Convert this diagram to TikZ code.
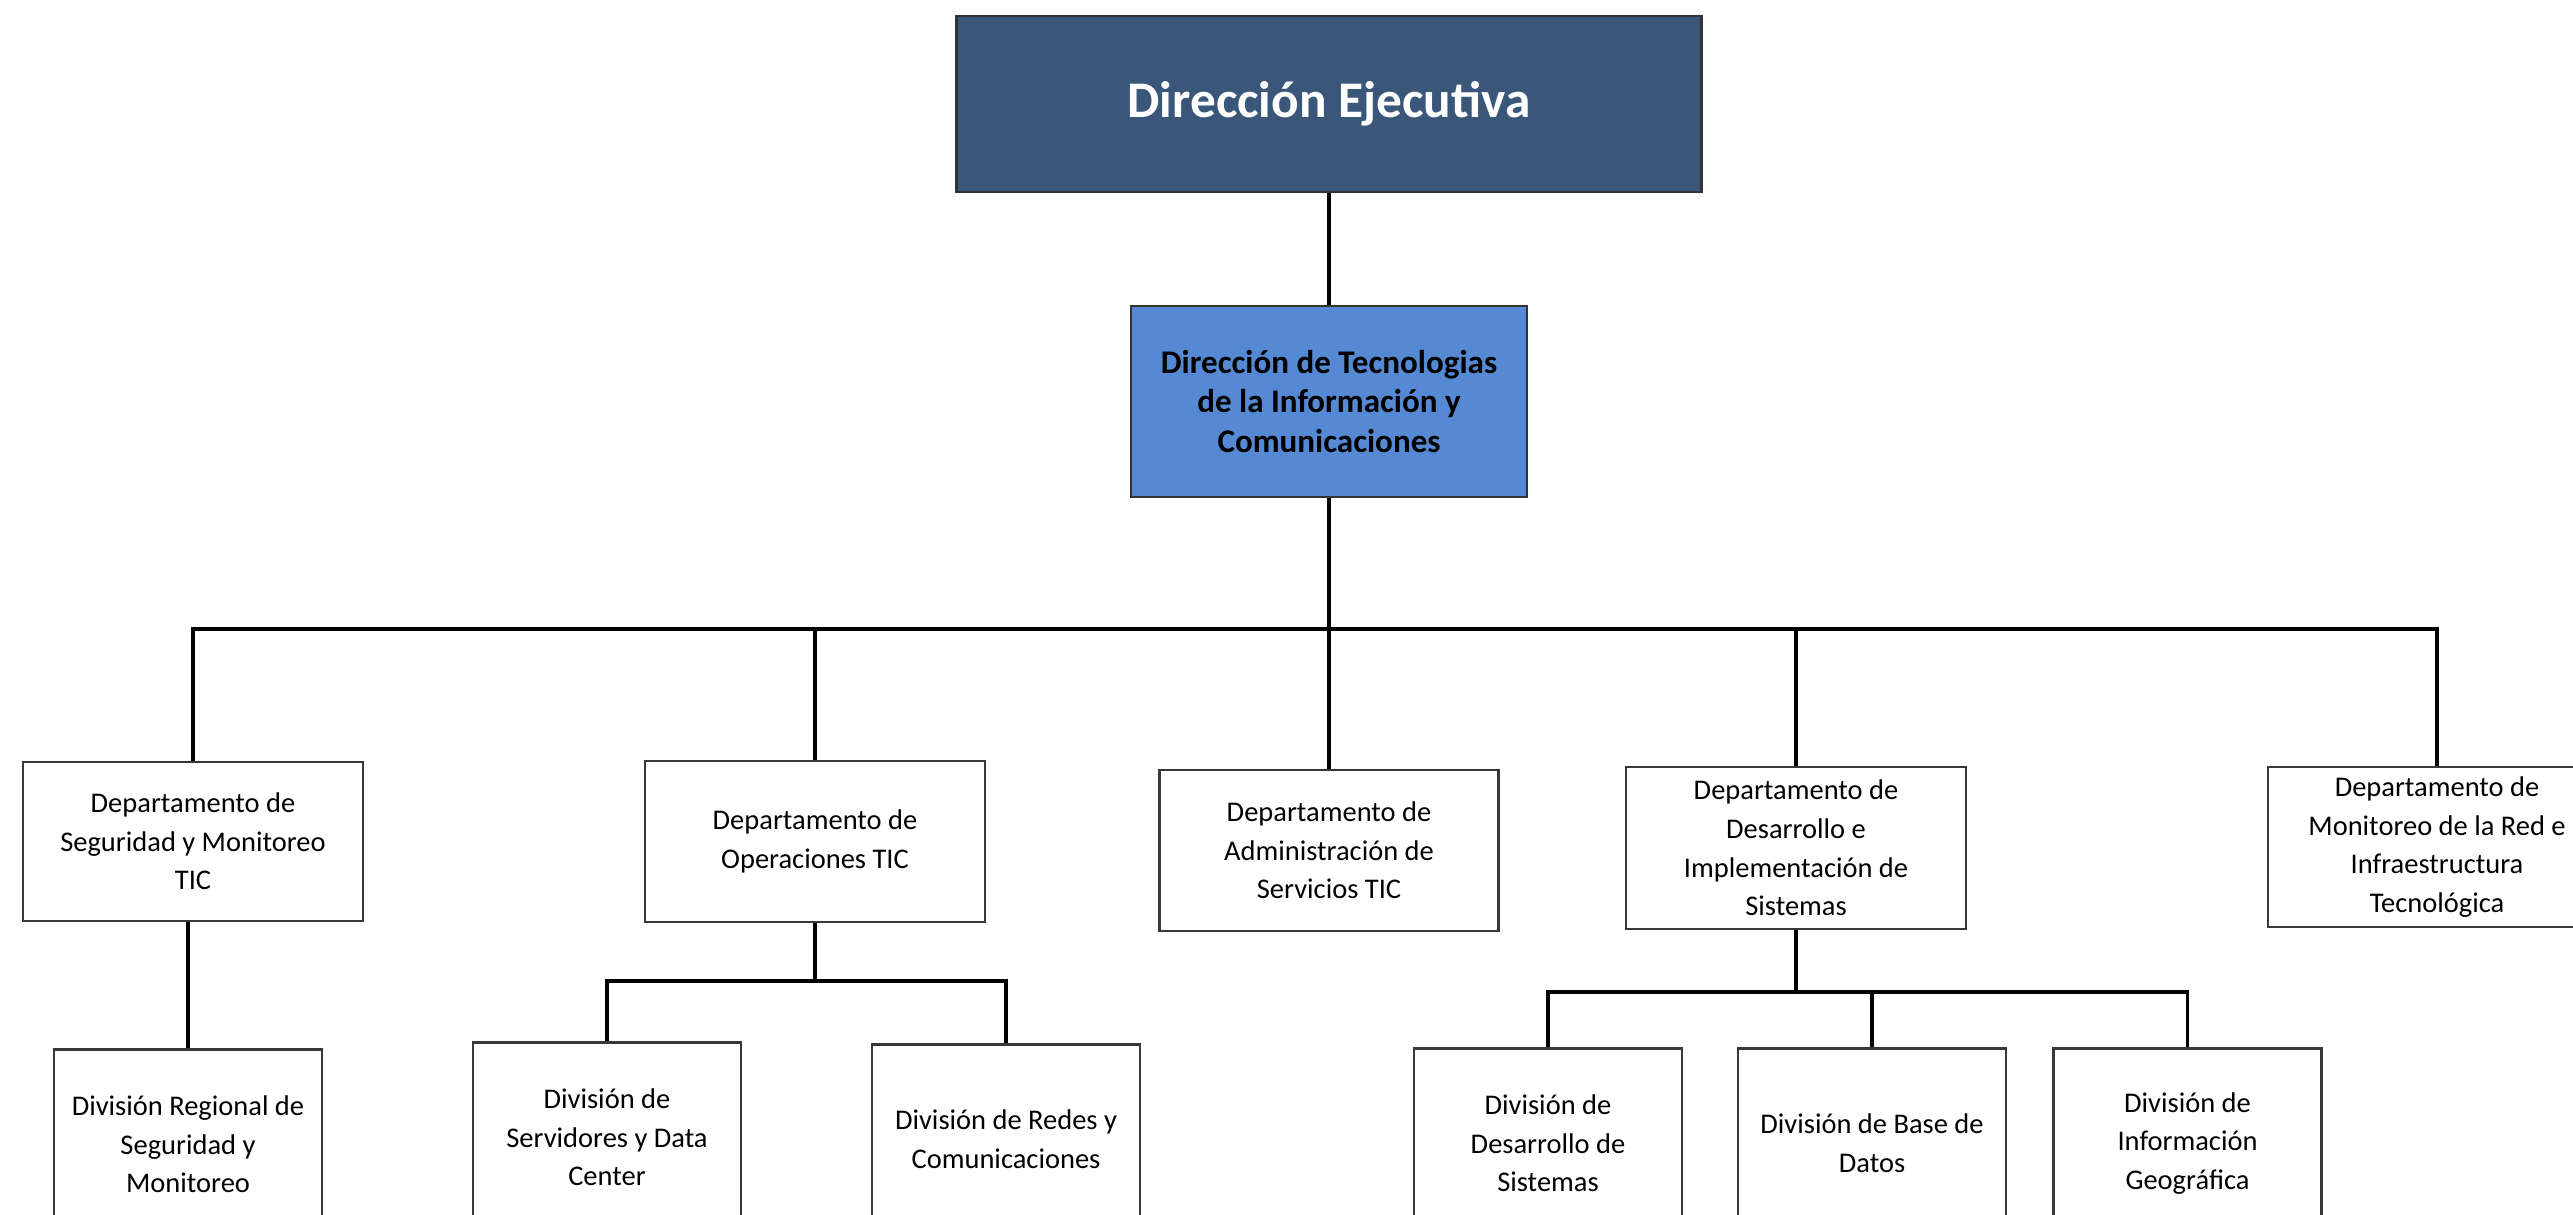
\documentclass[tikz,border=0pt]{standalone}
\usepackage{fontspec}
\setmainfont{Carlito}
\definecolor{topblue}{RGB}{58,87,122}
\definecolor{midblue}{RGB}{85,137,212}
\begin{document}
\begin{tikzpicture}[x=0.01cm,y=-0.01cm,
  box/.style={draw=black!78, line width=0.75pt, fill=white, align=center, inner sep=0pt,
    text=black, font=\fontsize{8.1}{11}\selectfont},
  conn/.style={line width=1pt, draw=black},
  topbox/.style={draw=black!80, line width=0.75pt, fill=topblue, text=white, align=center,
    inner sep=0pt, font=\fontsize{14.6}{17}\selectfont\bfseries},
  dirbox/.style={draw=black!80, line width=0.75pt, fill=midblue, text=black, align=center,
    inner sep=0pt, font=\fontsize{9.4}{11.1}\selectfont\bfseries},
  divbox/.style={box, anchor=north, minimum width=2.68cm, minimum height=1.90cm}
]
\useasboundingbox (0,0) rectangle (2573,1214);
\clip (0,0) rectangle (2573,1214);
\fill[white] (0,0) rectangle (2573,1214);

% top levels
\node[topbox, minimum width=7.45cm, minimum height=1.76cm] (dir) at (1329,104) {Dirección Ejecutiva};
\node[dirbox, minimum width=3.96cm, minimum height=1.91cm] (dti) at (1329,401.5)
  {Dirección de Tecnologias\\de la Información y\\Comunicaciones};

% departments
\node[box, minimum width=3.40cm, minimum height=1.59cm] (b1) at (193,841.5)
  {Departamento de\\Seguridad y Monitoreo\\TIC};
\node[box, minimum width=3.40cm, minimum height=1.61cm] (b2) at (815,841.5)
  {Departamento de\\Operaciones TIC};
\node[box, minimum width=3.39cm, minimum height=1.61cm] (b3) at (1329,850.5)
  {Departamento de\\Administración de\\Servicios TIC};
\node[box, minimum width=3.40cm, minimum height=1.62cm] (b4) at (1796,848)
  {Departamento de\\Desarrollo e\\Implementación de\\Sistemas};
\node[box, minimum width=3.38cm, minimum height=1.60cm] (b5) at (2437,847)
  {Departamento de\\Monitoreo de la Red e\\Infraestructura\\Tecnológica};

% divisions
\node[divbox] (c1) at (188,1048) {División Regional de\\Seguridad y\\Monitoreo};
\node[divbox] (c2) at (607,1041) {División de\\Servidores y Data\\Center};
\node[divbox] (c3) at (1006,1043) {División de Redes y\\Comunicaciones};
\node[divbox] (c4) at (1548,1047) {División de\\Desarrollo de\\Sistemas};
\node[divbox] (c5) at (1872,1047) {División de Base de\\Datos};
\node[divbox] (c6) at (2187.5,1047) {División de\\Información\\Geográfica};

% connectors
\coordinate (bus) at (1329,629);
\coordinate (bus2) at (815,981);
\coordinate (bus4) at (1796,992);

\draw[conn] (dir.south) -- (dti.north);
\draw[conn] (dti.south) -- (b3.north);
\draw[conn] (b1.north) |- (bus) -| (b5.north);
\draw[conn] (b2.north) -- (b2.north |- bus);
\draw[conn] (b4.north) -- (b4.north |- bus);

\draw[conn] (c1.north |- b1.south) -- (c1.north);

\draw[conn] (b2.south) -- (bus2);
\draw[conn] (c2.north) |- (bus2) -| (c3.north);

\draw[conn] (b4.south) -- (bus4);
\draw[conn] (c4.north) |- (bus4) -| (c6.north);
\draw[conn] (c5.north) -- (c5.north |- bus4);
\end{tikzpicture}
\end{document}
